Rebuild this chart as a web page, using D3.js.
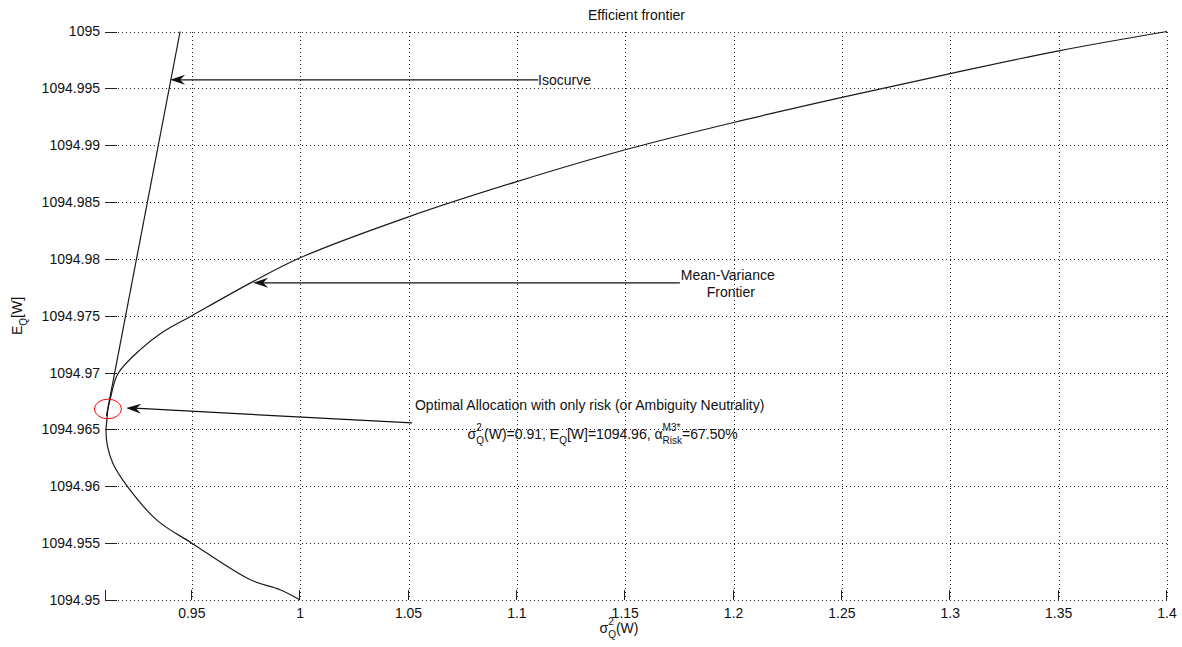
<!DOCTYPE html>
<html>
<head>
<meta charset="utf-8">
<script src="https://cdn.jsdelivr.net/npm/d3@7"></script>
<style>
  html, body { margin: 0; padding: 0; background: #fff; }
  svg { display: block; font-family: "Liberation Sans", Arial, Helvetica, sans-serif; }
</style>
</head>
<body>
<svg id="chart" width="1182" height="647"></svg>
<script>
// Mean-variance frontier: variance of terminal wealth vs. expected wealth
const frontierVariance = [1.0000, 0.9907, 0.9768, 0.9500, 0.9340, 0.9206, 0.9136, 0.9110, 0.9104, 0.9108,
                          0.9113, 0.9125, 0.9159, 0.9261, 0.9361, 0.9500, 0.9782, 1.0000, 1.0500, 1.1000,
                          1.1500, 1.2000, 1.2500, 1.3000, 1.3500, 1.4000];
const frontierMean = [1094.9500, 1094.9509, 1094.9518, 1094.9550, 1094.9570, 1094.9599, 1094.9620, 1094.9636, 1094.9649, 1094.9658,
                      1094.9668, 1094.9678, 1094.9699, 1094.9720, 1094.9735, 1094.9750, 1094.9780, 1094.9801, 1094.9837, 1094.9868,
                      1094.9896, 1094.9920, 1094.9942, 1094.9963, 1094.9983, 1095.0000];

// Indifference curve touching the frontier
const isoVariance = [0.9446, 0.9106];
const isoMean = [1095.0000, 1094.9662];

// Optimal allocation (risk only)
const optimalVariance = 0.9113;
const optimalMean = 1094.9668;
const riskShareM3 = 67.50;

const xDomain = [0.9104, 1.4];
const yDomain = [1094.95, 1095];
const xTicks = [0.95, 1, 1.05, 1.1, 1.15, 1.2, 1.25, 1.3, 1.35, 1.4];
const xTickLabels = ["0.95", "1", "1.05", "1.1", "1.15", "1.2", "1.25", "1.3", "1.35", "1.4"];
const yTicks = [1094.95, 1094.955, 1094.96, 1094.965, 1094.97, 1094.975, 1094.98, 1094.985, 1094.99, 1094.995, 1095];
const yTickLabels = ["1094.95", "1094.955", "1094.96", "1094.965", "1094.97", "1094.975", "1094.98", "1094.985", "1094.99", "1094.995", "1095"];

// Callout arrows (data coordinates of tail and tip)
const calloutTails = [[1.1098, 1094.99575], [1.1752, 1094.9779], [1.0516, 1094.96557]];
const calloutTips  = [[0.9400, 1094.99575], [0.9783, 1094.9779], [0.9197, 1094.96689]];

const svg = d3.select("#chart");
const W = 1182, H = 647;
svg.append("rect").attr("width", W).attr("height", H).attr("fill", "#fff");

const plot = { left: 106, right: 1167, top: 31.5, bottom: 600 };
const x = d3.scaleLinear().domain(xDomain).range([plot.left, plot.right]);
const y = d3.scaleLinear().domain(yDomain).range([plot.bottom, plot.top]);

const ink = "#111";
const FS = 14, SFS = 10;

// ---- grid ----
const grid = svg.append("g").attr("stroke", "#222").attr("stroke-width", 1)
  .attr("stroke-dasharray", "1,3").attr("shape-rendering", "crispEdges");
xTicks.forEach(t => {
  const px = Math.round(x(t)) + 0.5;
  grid.append("line").attr("x1", px).attr("x2", px).attr("y1", y(yDomain[1])).attr("y2", y(yDomain[0]));
});
yTicks.forEach(t => {
  const py = Math.round(y(t)) + 0.5;
  grid.append("line").attr("x1", x(xDomain[0])).attr("x2", x(xDomain[1])).attr("y1", py).attr("y2", py);
});

// ---- tick marks (inward) ----
const ticks = svg.append("g").attr("stroke", "#222").attr("stroke-width", 1).attr("shape-rendering", "crispEdges");
yTicks.forEach(t => {
  const py = Math.round(y(t)) + 0.5;
  ticks.append("line").attr("x1", plot.left - 1).attr("x2", plot.left + 11).attr("y1", py).attr("y2", py);
});
[xDomain[0]].concat(xTicks).forEach(t => {
  const px = Math.round(x(t)) - 0.5;
  ticks.append("line").attr("x1", px).attr("x2", px).attr("y1", plot.bottom).attr("y2", plot.bottom - 10);
});

// ---- tick labels ----
const tl = svg.append("g").attr("fill", ink).attr("font-size", FS);
yTicks.forEach((t, i) => {
  tl.append("text").attr("x", 100).attr("y", y(t)).attr("dy", "0.35em")
    .attr("text-anchor", "end").text(yTickLabels[i]);
});
xTicks.forEach((t, i) => {
  tl.append("text").attr("x", x(t)).attr("y", 618).attr("text-anchor", "middle").text(xTickLabels[i]);
});

// ---- rich text helper: runs of text with stacked super/subscripts ----
function rich(parent, items) {
  const g = parent.append("g").attr("fill", ink);
  let cx = 0;
  items.forEach(it => {
    if (it.t) {
      const t = g.append("text").attr("x", cx).attr("y", 0).attr("font-size", FS).text(it.t);
      cx += t.node().getComputedTextLength();
    }
    let w = 0;
    if (it.sup) {
      const s = g.append("text").attr("x", cx).attr("y", -8).attr("font-size", SFS).text(it.sup);
      w = Math.max(w, s.node().getComputedTextLength());
    }
    if (it.sub) {
      const s = g.append("text").attr("x", cx).attr("y", 5).attr("font-size", SFS).text(it.sub);
      w = Math.max(w, s.node().getComputedTextLength());
    }
    cx += w;
  });
  return { g, width: cx };
}

// ---- title and axis labels ----
svg.append("text").attr("x", (plot.left + plot.right) / 2).attr("y", 19.5)
  .attr("text-anchor", "middle").attr("font-size", FS).attr("fill", ink).text("Efficient frontier");

const xl = rich(svg, [{ t: "σ", sup: "2", sub: "Q" }, { t: "(W)" }]);
xl.g.attr("transform", `translate(${619 - xl.width / 2},633)`);

const ylab = rich(svg, [{ t: "E", sub: "Q" }, { t: "[W]" }]);
ylab.g.attr("transform", `translate(22,${316}) rotate(-90) translate(${-ylab.width / 2},0)`);

// ---- curves ----
const line = d3.line().x(d => x(d[0])).y(d => y(d[1])).curve(d3.curveCatmullRom.alpha(0.5));
svg.append("clipPath").attr("id", "plotclip").append("rect")
  .attr("x", plot.left - 1).attr("y", plot.top - 1)
  .attr("width", plot.right - plot.left + 2).attr("height", plot.bottom - plot.top + 2);

const curves = svg.append("g").attr("clip-path", "url(#plotclip)").attr("fill", "none")
  .attr("stroke", "#1a1a1a").attr("stroke-width", 1.2);
curves.append("path").attr("d", line(frontierVariance.map((v, i) => [v, frontierMean[i]])));
curves.append("path").attr("d", d3.line().x(d => x(d[0])).y(d => y(d[1]))(isoVariance.map((v, i) => [v, isoMean[i]])));

// optimal point marker
svg.append("ellipse").attr("cx", x(optimalVariance)).attr("cy", y(optimalMean))
  .attr("rx", 13.5).attr("ry", 9.8).attr("fill", "none").attr("stroke", "#ff0000").attr("stroke-width", 1);

// ---- callouts ----
function arrow(tail, tip) {
  const x0 = x(tail[0]), y0 = y(tail[1]), x1 = x(tip[0]), y1 = y(tip[1]);
  const g = svg.append("g");
  g.append("line").attr("x1", x0).attr("y1", y0).attr("x2", x1 + 4 * Math.sign(x0 - x1)).attr("y2", y1)
    .attr("stroke", "#111").attr("stroke-width", 1.2);
  const a = Math.atan2(y1 - y0, x1 - x0) * 180 / Math.PI;
  g.append("path").attr("d", "M0,0 L-15,-5 L-10,0 L-15,5 Z")
    .attr("transform", `translate(${x1},${y1}) rotate(${a})`).attr("fill", "#111");
  return [x0, y0];
}

// Isocurve
{
  const [tx, ty] = arrow(calloutTails[0], calloutTips[0]);
  svg.append("text").attr("x", tx).attr("y", ty).attr("dy", "0.35em")
    .attr("font-size", FS).attr("fill", ink).text("Isocurve");
}
// Mean-Variance Frontier
{
  const [tx, ty] = arrow(calloutTails[1], calloutTips[1]);
  const l1 = svg.append("text").attr("x", tx + 1).attr("y", ty - 8).attr("dy", "0.35em")
    .attr("font-size", FS).attr("fill", ink).text("Mean-Variance");
  const w1 = l1.node().getComputedTextLength();
  svg.append("text").attr("x", tx + 1 + w1 / 2 + 3).attr("y", ty + 9).attr("dy", "0.35em")
    .attr("text-anchor", "middle").attr("font-size", FS).attr("fill", ink).text("Frontier");
}
// Optimal allocation
{
  const [tx, ty] = arrow(calloutTails[2], calloutTips[2]);
  const l1 = svg.append("text").attr("x", tx + 3).attr("y", ty - 18).attr("dy", "0.35em")
    .attr("font-size", FS).attr("fill", ink).text("Optimal Allocation with only risk (or Ambiguity Neutrality)");
  const w1 = l1.node().getComputedTextLength();
  const trunc2 = v => (Math.floor(v * 100 + 1e-9) / 100).toFixed(2);
  const l2 = rich(svg, [
    { t: "σ", sup: "2", sub: "Q" },
    { t: `(W)=${trunc2(optimalVariance)}, E`, sub: "Q" },
    { t: `[W]=${trunc2(optimalMean)}, α`, sup: "M3*", sub: "Risk" },
    { t: `=${riskShareM3.toFixed(2)}%` }
  ]);
  const c = tx + 3 + w1 / 2 + 13;
  l2.g.attr("transform", `translate(${c - l2.width / 2},${ty + 16})`);
}
</script>
</body>
</html>
